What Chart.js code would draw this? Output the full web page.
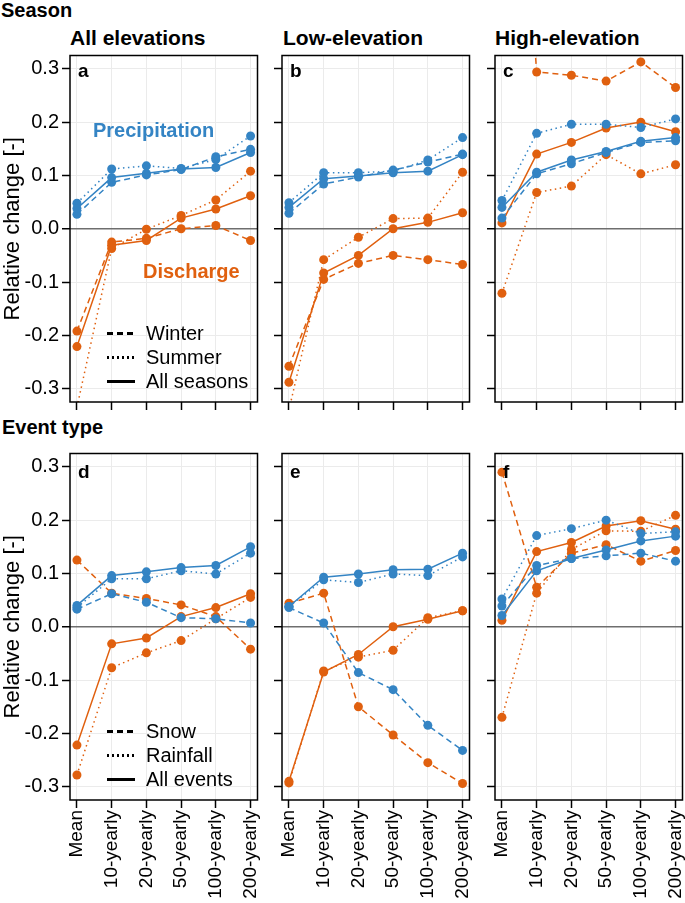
<!DOCTYPE html>
<html>
<head>
<meta charset="utf-8">
<script src="https://cdn.jsdelivr.net/npm/chart.js@4.4.0/dist/chart.umd.min.js"></script>
<style>
  body { margin: 0; width: 685px; height: 903px; background: #fff; overflow: hidden; position: relative;
         font-family: "Liberation Sans", Arial, sans-serif; }
  .panel { position: absolute; z-index: 1; }
  .txt { position: absolute; white-space: nowrap; font-weight: bold; line-height: 1; z-index: 5; }
</style>
</head>
<body>

<div class="txt" style="left:1px;top:0px;font-size:20px;">Season</div>
<div class="txt" style="left:70px;top:27px;font-size:21px;">All elevations</div>
<div class="txt" style="left:283px;top:27px;font-size:21px;">Low-elevation</div>
<div class="txt" style="left:495px;top:27px;font-size:21px;">High-elevation</div>
<div class="txt" style="left:2px;top:417px;font-size:20px;">Event type</div>
<div class="txt" style="left:93px;top:120px;font-size:20px;color:#3484c4;">Precipitation</div>
<div class="txt" style="left:143px;top:261px;font-size:20px;color:#e0600f;">Discharge</div>

<div class="panel" id="pa"><canvas id="ca"></canvas></div>
<div class="panel" id="pb"><canvas id="cb"></canvas></div>
<div class="panel" id="pc"><canvas id="cc"></canvas></div>
<div class="panel" id="pd"><canvas id="cd"></canvas></div>
<div class="panel" id="pe"><canvas id="ce"></canvas></div>
<div class="panel" id="pf"><canvas id="cf"></canvas></div>

<script>
const categories = ['Mean', '10-yearly', '20-yearly', '50-yearly', '100-yearly', '200-yearly'];
const yTicks = [-0.3, -0.2, -0.1, 0, 0.1, 0.2, 0.3];

// Season - all elevations (a)
const precipWinterA = [0.027, 0.087, 0.101, 0.111, 0.135, 0.149];
const precipSummerA = [0.048, 0.112, 0.118, 0.113, 0.130, 0.174];
const precipAllA    = [0.038, 0.096, 0.104, 0.112, 0.115, 0.143];
const dischWinterA  = [-0.192, -0.025, -0.018, 0.000, 0.006, -0.022];
const dischSummerA  = [-0.335, -0.037, -0.001, 0.025, 0.054, 0.108];
const dischAllA     = [-0.221, -0.031, -0.022, 0.020, 0.037, 0.062];

// Season - low elevation (b)
const precipWinterB = [0.029, 0.084, 0.097, 0.110, 0.125, 0.140];
const precipSummerB = [0.049, 0.105, 0.105, 0.108, 0.129, 0.171];
const precipAllB    = [0.040, 0.094, 0.099, 0.105, 0.108, 0.139];
const dischWinterB  = [-0.258, -0.095, -0.065, -0.050, -0.058, -0.067];
const dischSummerB  = [-0.340, -0.058, -0.016, 0.019, 0.020, 0.106];
const dischAllB     = [-0.288, -0.083, -0.050, 0.000, 0.012, 0.030];

// Season - high elevation (c)
const precipWinterC = [0.020, 0.103, 0.122, 0.143, 0.162, 0.165];
const precipSummerC = [0.053, 0.179, 0.196, 0.196, 0.190, 0.206];
const precipAllC    = [0.040, 0.106, 0.129, 0.145, 0.164, 0.171];
const dischWinterC  = [1.200, 0.294, 0.288, 0.277, 0.313, 0.265];
const dischSummerC  = [-0.121, 0.068, 0.080, 0.139, 0.103, 0.120];
const dischAllC     = [0.011, 0.140, 0.162, 0.189, 0.200, 0.182];

// Event type - all elevations (d)
const precipSnowD   = [0.033, 0.062, 0.046, 0.017, 0.015, 0.007];
const precipRainD   = [0.036, 0.090, 0.090, 0.105, 0.099, 0.138];
const precipAllD    = [0.040, 0.096, 0.103, 0.111, 0.115, 0.150];
const dischSnowD    = [0.125, 0.063, 0.053, 0.041, 0.019, -0.042];
const dischRainD    = [-0.278, -0.077, -0.049, -0.026, 0.015, 0.055];
const dischAllD     = [-0.222, -0.032, -0.021, 0.019, 0.036, 0.062];

// Event type - low elevation (e)
const precipSnowE   = [0.036, 0.007, -0.086, -0.118, -0.185, -0.232];
const precipRainE   = [0.038, 0.088, 0.083, 0.099, 0.096, 0.131];
const precipAllE    = [0.038, 0.093, 0.099, 0.107, 0.108, 0.138];
const dischSnowE    = [0.044, 0.063, -0.150, -0.203, -0.255, -0.294];
const dischRainE    = [-0.293, -0.083, -0.057, -0.044, 0.017, 0.030];
const dischAllE     = [-0.290, -0.085, -0.052, 0.000, 0.014, 0.030];

// Event type - high elevation (f)
const precipSnowF   = [0.039, 0.115, 0.128, 0.133, 0.138, 0.123];
const precipRainF   = [0.052, 0.171, 0.184, 0.200, 0.175, 0.178];
const precipAllF    = [0.021, 0.105, 0.128, 0.144, 0.161, 0.170];
const dischSnowF    = [0.290, 0.074, 0.138, 0.154, 0.123, 0.143];
const dischRainF    = [-0.170, 0.063, 0.145, 0.180, 0.179, 0.209];
const dischAllF     = [0.012, 0.141, 0.158, 0.189, 0.199, 0.183];

const BLUE = '#3484c4';
const ORANGE = '#e0600f';
const FONT = '"Liberation Sans", Arial, sans-serif';
const DASH = [6, 4];
const DOT = [1.5, 3.5];

// plot box + panel letter + line-style legend
const panelDecor = {
  id: 'panelDecor',
  afterDraw(chart, args, o) {
    const { ctx, chartArea: a } = chart;
    ctx.save();
    ctx.strokeStyle = '#000';
    ctx.lineWidth = 1.5;
    ctx.setLineDash([]);
    ctx.strokeRect(a.left, a.top, a.right - a.left, a.bottom - a.top);
    ctx.fillStyle = '#000';
    ctx.font = 'bold 19px ' + FONT;
    ctx.textBaseline = 'alphabetic';
    ctx.fillText(o.letter, a.left + 8, a.top + o.letterY);
    if (o.legend) {
      const dashes = [DASH, [2, 3], []];
      o.legend.forEach((lab, i) => {
        const y = a.top + o.legendY + i * 24;
        ctx.beginPath();
        ctx.lineWidth = 3;
        ctx.setLineDash(dashes[i]);
        ctx.moveTo(a.left + 37, y);
        ctx.lineTo(a.left + 65, y);
        ctx.stroke();
        ctx.setLineDash([]);
        ctx.font = '20px ' + FONT;
        ctx.textBaseline = 'middle';
        ctx.fillText(lab, a.left + 76, y + 1);
      });
    }
    ctx.restore();
  }
};

function ds(values, color, dash) {
  return {
    data: values.map((v, i) => ({ x: i, y: v })),
    borderColor: color,
    backgroundColor: color,
    borderWidth: 1.5,
    borderDash: dash,
    pointRadius: 4.5,
    pointHoverRadius: 4.5,
    pointBorderWidth: 0,
    tension: 0,
    fill: false
  };
}

function makePanel(id, cfg) {
  const padL = cfg.showY ? 70 : 14;
  const padT = 4, padR = 3;
  const padB = cfg.showX ? 105 : 10;
  const plotW = 189, plotH = 347;
  const w = padL + plotW + padR, h = padT + plotH + padB;
  const box = document.getElementById('p' + id);
  box.style.left = (cfg.left - padL) + 'px';
  box.style.top = (cfg.top - padT) + 'px';
  const cv = document.getElementById('c' + id);
  cv.width = w; cv.height = h;
  cv.style.width = w + 'px'; cv.style.height = h + 'px';

  new Chart(cv, {
    type: 'line',
    data: {
      datasets: [
        ds(cfg.blue[2], BLUE, []),
        ds(cfg.blue[0], BLUE, DASH),
        ds(cfg.blue[1], BLUE, DOT),
        ds(cfg.orange[2], ORANGE, []),
        ds(cfg.orange[0], ORANGE, DASH),
        ds(cfg.orange[1], ORANGE, DOT)
      ]
    },
    options: {
      responsive: false,
      animation: false,
      devicePixelRatio: 1,
      layout: { padding: { left: 0, top: padT, right: padR, bottom: 0 } },
      plugins: {
        legend: { display: false },
        tooltip: { enabled: false },
        panelDecor: { letter: cfg.letter, letterY: cfg.letterY, legend: cfg.legend, legendY: 278 }
      },
      scales: {
        x: {
          type: 'linear',
          min: -0.2, max: 5.2,
          afterBuildTicks: s => { s.ticks = categories.map((c, i) => ({ value: i })); },
          afterFit: s => { s.height = padB; s.paddingLeft = 0; s.paddingRight = 0; },
          border: { display: false },
          grid: { color: '#ebebeb', lineWidth: 1, tickColor: '#000', tickWidth: 1.5, tickLength: 8 },
          ticks: {
            display: cfg.showX, autoSkip: false, minRotation: 90, maxRotation: 90, padding: 2,
            color: '#000', font: { family: FONT, size: 19 },
            callback: v => categories[v]
          }
        },
        y: {
          min: -0.325, max: 0.325,
          afterBuildTicks: s => { s.ticks = yTicks.map(v => ({ value: v })); },
          afterFit: s => { s.width = padL; s.paddingTop = 0; s.paddingBottom = 0; },
          border: { display: false },
          grid: {
            color: c => (c.tick && c.tick.value === 0) ? '#6e6e6e' : '#ebebeb',
            lineWidth: c => (c.tick && c.tick.value === 0) ? 1.5 : 1,
            tickColor: '#000', tickWidth: 1.5, tickLength: 8
          },
          ticks: {
            display: cfg.showY, padding: 3, color: '#000',
            font: { family: FONT, size: 20 },
            callback: v => v.toFixed(1)
          },
          title: {
            display: cfg.showY, text: 'Relative change [-]', color: '#000',
            font: { family: FONT, size: 22 }, padding: 0
          }
        }
      }
    },
    plugins: [panelDecor]
  });
}

makePanel('a', { left: 70, top: 55, showY: true, showX: false, letter: 'a', letterY: 21,
  blue: [precipWinterA, precipSummerA, precipAllA], orange: [dischWinterA, dischSummerA, dischAllA],
  legend: ['Winter', 'Summer', 'All seasons'] });
makePanel('b', { left: 282, top: 55, showY: false, showX: false, letter: 'b', letterY: 21,
  blue: [precipWinterB, precipSummerB, precipAllB], orange: [dischWinterB, dischSummerB, dischAllB] });
makePanel('c', { left: 495, top: 55, showY: false, showX: false, letter: 'c', letterY: 21,
  blue: [precipWinterC, precipSummerC, precipAllC], orange: [dischWinterC, dischSummerC, dischAllC] });
makePanel('d', { left: 70, top: 453, showY: true, showX: true, letter: 'd', letterY: 24,
  blue: [precipSnowD, precipRainD, precipAllD], orange: [dischSnowD, dischRainD, dischAllD],
  legend: ['Snow', 'Rainfall', 'All events'] });
makePanel('e', { left: 282, top: 453, showY: false, showX: true, letter: 'e', letterY: 24,
  blue: [precipSnowE, precipRainE, precipAllE], orange: [dischSnowE, dischRainE, dischAllE] });
makePanel('f', { left: 495, top: 453, showY: false, showX: true, letter: 'f', letterY: 24,
  blue: [precipSnowF, precipRainF, precipAllF], orange: [dischSnowF, dischRainF, dischAllF] });
</script>
</body>
</html>
